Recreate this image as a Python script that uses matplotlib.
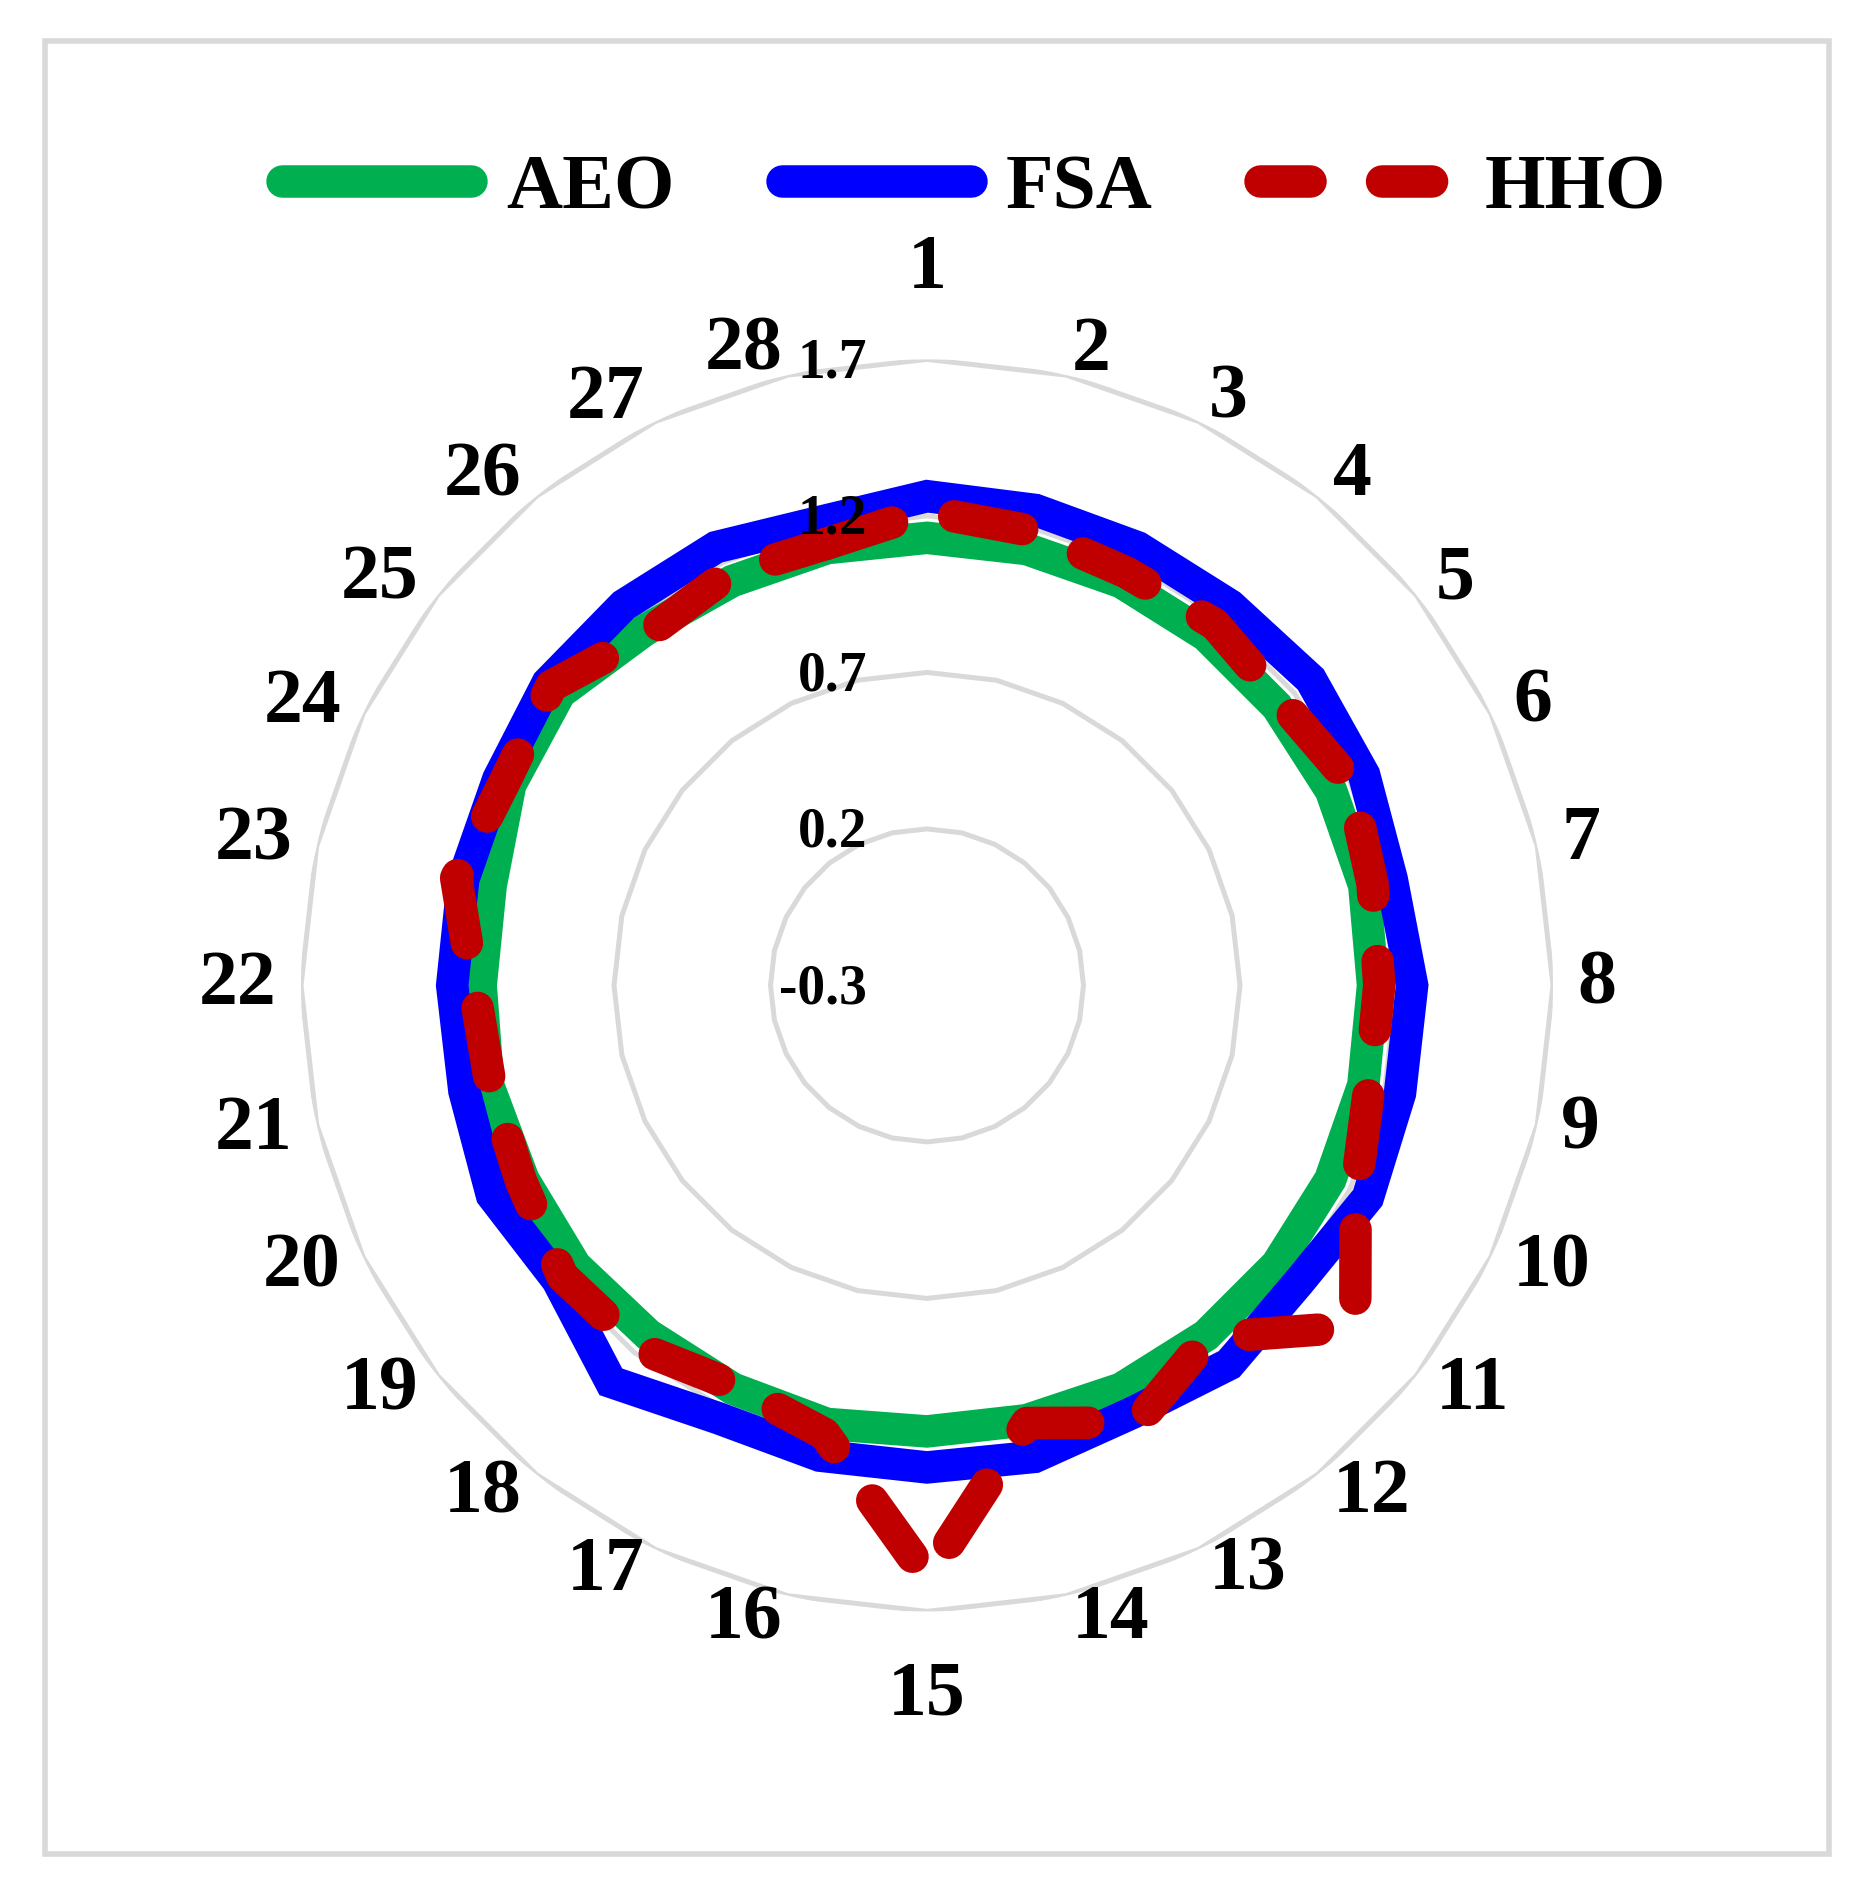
import numpy as np
import matplotlib
matplotlib.use('Agg')
import matplotlib.pyplot as plt
from matplotlib.patches import Polygon, Rectangle
from matplotlib.lines import Line2D

plt.rcParams['font.family'] = ['Liberation Serif', 'DejaVu Serif']
plt.rcParams['font.weight'] = 'bold'

# data
categories = [str(i) for i in range(1, 29)]
aeo = [1.13, 1.13, 1.13, 1.13, 1.13, 1.133, 1.133, 1.125, 1.13, 1.13, 1.13, 1.13, 1.13, 1.125,
       1.125, 1.137, 1.13, 1.128, 1.137, 1.131, 1.138, 1.126, 1.13, 1.178, 1.2, 1.15, 1.134, 1.133]
fsa = [1.263, 1.258, 1.253, 1.253, 1.268, 1.25, 1.223, 1.25, 1.25, 1.263, 1.22, 1.248, 1.215, 1.245,
       1.24, 1.241, 1.235, 1.32, 1.21, 1.243, 1.216, 1.217, 1.22, 1.22, 1.25, 1.254, 1.254, 1.22]
hho = [1.215, 1.19, 1.165, 1.176, 1.15, 1.20, 1.16, 1.145, 1.15, 1.22, 1.45, 1.14, 1.25, 1.134,
       1.59, 1.17, 1.12, 1.18, 1.19, 1.14, 1.13, 1.148, 1.243, 1.198, 1.235, 1.135, 1.16, 1.147]
r_ticks = [-0.3, 0.2, 0.7, 1.2, 1.7]
series_names = ['AEO', 'FSA', 'HHO']
colors = ['#00B050', '#0000FF', '#C00000']

grid_col = '#D9D9D9'
lw = 11.7

fig = plt.figure(figsize=(9.38, 9.515), dpi=200)
ax = fig.add_axes([0.16045, 0.15323, 0.66738, 0.6579], projection='polar')
ax.set_theta_zero_location('N')
ax.set_theta_direction(-1)
ax.set_ylim(r_ticks[0], r_ticks[-1])
ax.grid(False)
ax.spines['polar'].set_visible(False)
ax.set_xticks([])
ax.set_yticks([])

n = len(categories)
theta = np.arange(n) * 2 * np.pi / n

# polygon gridlines
for v in r_ticks[1:]:
    ax.add_patch(Polygon(np.column_stack([theta, [v] * n]), closed=True, fill=False,
                         edgecolor=grid_col, lw=1.8, joinstyle='miter', zorder=1))

# solid series
for vals, col in zip([aeo, fsa], colors[:2]):
    ax.add_patch(Polygon(np.column_stack([theta, vals]), closed=True, fill=False,
                         edgecolor=col, lw=lw, joinstyle='miter', zorder=3))

# dashed series (closing segment restarts the dash pattern like the original)
dash = (2.13, 2.02)
ax.plot(theta, hho, color=colors[2], lw=lw, linestyle=(3.3, dash),
        dash_capstyle='round', dash_joinstyle='round', zorder=5)
ax.plot([theta[-1], 2 * np.pi], [hho[-1], hho[0]], color=colors[2], lw=lw,
        linestyle=(0, dash), dash_capstyle='round', dash_joinstyle='round', zorder=5)

# category labels
for i, (ang, lab) in enumerate(zip(theta, categories)):
    if i == 0:
        ax.text(ang, 1.987, lab, ha='center', va='center', fontsize=28)
    elif i == n // 2:
        ax.text(ang, 1.971, lab, ha='center', va='center', fontsize=28)
    else:
        ha = 'left' if np.sin(ang) > 0 else 'right'
        ax.text(ang, 1.778, lab, ha=ha, va='center', fontsize=28)

# radial value labels
for v in r_ticks:
    ax.annotate('{:g}'.format(v), xy=(0, v), xytext=(-21.6, -1.4), textcoords='offset points',
                ha='right', va='center', fontsize=20, zorder=10)

# legend
handles = [Line2D([], [], color=colors[0], lw=lw, solid_capstyle='round'),
           Line2D([], [], color=colors[1], lw=lw, solid_capstyle='round'),
           Line2D([], [], color=colors[2], lw=lw, linestyle=(0, (1.54, 2.2)), dash_capstyle='round')]
fig.legend(handles, series_names, loc='center', bbox_to_anchor=(0.5192, 0.9003), ncol=3,
           frameon=False, fontsize=28, handlelength=2.43, handletextpad=0.45, columnspacing=1.38)

# outer chart frame
fig.patches.append(Rectangle((45 / 1876, 1 - 1854 / 1903), (1829 - 45) / 1876, (1854 - 41) / 1903,
                             transform=fig.transFigure, fill=False, edgecolor=grid_col, lw=2))

fig.savefig('out.png', dpi=200)
